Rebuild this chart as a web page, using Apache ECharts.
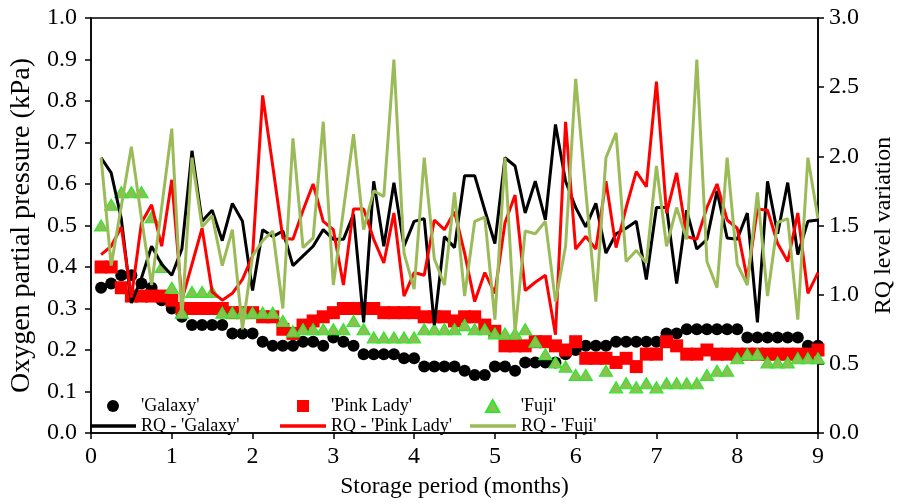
<!DOCTYPE html>
<html>
<head>
<meta charset="utf-8">
<script src="https://cdn.jsdelivr.net/npm/echarts@6/dist/echarts.min.js"></script>
<style>
  html, body { margin: 0; padding: 0; background: #fff; }
  #chart { width: 904px; height: 504px; }
</style>
</head>
<body>
<div id="chart"></div>
<script>
// storage time of each sample (months)
const months = [
  0.125, 0.25, 0.375, 0.5, 0.625, 0.75, 0.875, 1,
  1.125, 1.25, 1.375, 1.5, 1.625, 1.75, 1.875, 2,
  2.125, 2.25, 2.375, 2.5, 2.625, 2.75, 2.875, 3,
  3.125, 3.25, 3.375, 3.5, 3.625, 3.75, 3.875, 4,
  4.125, 4.25, 4.375, 4.5, 4.625, 4.75, 4.875, 5,
  5.125, 5.25, 5.375, 5.5, 5.625, 5.75, 5.875, 6,
  6.125, 6.25, 6.375, 6.5, 6.625, 6.75, 6.875, 7,
  7.125, 7.25, 7.375, 7.5, 7.625, 7.75, 7.875, 8,
  8.125, 8.25, 8.375, 8.5, 8.625, 8.75, 8.875, 9,
];

// oxygen partial pressure (kPa)
const o2Galaxy = [
  0.35, 0.36, 0.38, 0.38, 0.36, 0.35, 0.32, 0.30,
  0.28, 0.26, 0.26, 0.26, 0.26, 0.24, 0.24, 0.24,
  0.22, 0.21, 0.21, 0.21, 0.22, 0.22, 0.21, 0.23,
  0.22, 0.21, 0.19, 0.19, 0.19, 0.19, 0.18, 0.18,
  0.16, 0.16, 0.16, 0.16, 0.15, 0.14, 0.14, 0.16,
  0.16, 0.15, 0.17, 0.17, 0.17, 0.17, 0.19, 0.20,
  0.21, 0.21, 0.21, 0.22, 0.22, 0.22, 0.22, 0.22,
  0.24, 0.24, 0.25, 0.25, 0.25, 0.25, 0.25, 0.25,
  0.23, 0.23, 0.23, 0.23, 0.23, 0.23, 0.21, 0.21,
];
const o2PinkLady = [
  0.40, 0.40, 0.35, 0.33, 0.33, 0.33, 0.33, 0.32,
  0.30, 0.30, 0.30, 0.30, 0.30, 0.29, 0.29, 0.29,
  0.28, 0.28, 0.25, 0.24, 0.26, 0.27, 0.28, 0.29,
  0.30, 0.30, 0.30, 0.30, 0.29, 0.29, 0.29, 0.29,
  0.28, 0.28, 0.28, 0.27, 0.28, 0.28, 0.26, 0.245,
  0.21, 0.21, 0.21, 0.22, 0.22, 0.21, 0.20, 0.22,
  0.18, 0.18, 0.18, 0.17, 0.18, 0.16, 0.19, 0.19,
  0.22, 0.21, 0.19, 0.19, 0.20, 0.19, 0.19, 0.19,
  0.19, 0.19, 0.19, 0.19, 0.19, 0.19, 0.19, 0.20,
];
const o2Fuji = [
  0.50, 0.55, 0.58, 0.58, 0.58, 0.52, 0.40, 0.35,
  0.29, 0.34, 0.34, 0.34, 0.29, 0.29, 0.29, 0.29,
  0.29, 0.29, 0.27, 0.245, 0.25, 0.25, 0.25, 0.25,
  0.25, 0.27, 0.25, 0.23, 0.23, 0.23, 0.23, 0.23,
  0.25, 0.25, 0.25, 0.25, 0.26, 0.25, 0.25, 0.24,
  0.24, 0.24, 0.25, 0.22, 0.19, 0.17, 0.16, 0.14,
  0.14, null, 0.15, 0.11, 0.12, 0.11, 0.12, 0.11,
  0.12, 0.12, 0.12, 0.12, 0.14, 0.15, 0.15, 0.18,
  0.19, 0.19, 0.17, 0.17, 0.17, 0.18, 0.18, 0.18,
];

// respiratory quotient
const rqGalaxy = [
  1.99, 1.88, 1.55, 0.94, 1.12, 1.35, 1.22, 1.14,
  1.33, 2.04, 1.53, 1.61, 1.39, 1.66, 1.53, 1.03,
  1.47, 1.42, 1.46, 1.21, 1.28, 1.35, 1.47, 1.40,
  1.40, 1.58, 0.80, 1.82, 1.35, 1.81, 1.35, 1.53,
  1.55, 0.78, 1.42, 1.34, 1.86, 1.86, 1.61, 1.37,
  1.99, 1.93, 1.59, 1.82, 1.54, 2.23, 1.82, 1.63,
  1.49, 1.66, 1.30, 1.44, 1.48, 1.53, 1.11, 1.63,
  1.63, 1.08, 1.61, 1.33, 1.40, 1.75, 1.41, 1.40,
  1.59, 0.80, 1.82, 1.44, 1.81, 1.29, 1.53, 1.54,
];
const rqPinkLady = [
  1.29, 1.35, 1.49, 0.98, 1.52, 1.65, 1.35, 1.83,
  0.96, 1.22, 1.48, 1.02, 0.96, 1.01, 1.11, 1.28,
  2.44, 1.93, 1.41, 1.40, 1.61, 1.80, 1.53, 1.47,
  1.07, 1.62, 1.62, 1.40, 1.23, 1.59, 0.99, 1.16,
  1.14, 1.54, 1.47, 1.60, 1.30, 0.95, 1.16, 1.01,
  1.52, 1.72, 1.03, 1.09, 1.14, 0.71, 2.25, 1.33,
  1.42, 1.33, 1.82, 1.34, 1.63, 1.89, 1.78, 2.54,
  1.59, 1.88, 1.42, 1.40, 1.63, 1.80, 1.54, 1.48,
  1.11, 1.62, 1.61, 1.37, 1.24, 1.59, 1.01, 1.16,
];
const rqFuji = [
  1.99, 1.21, 1.64, 2.07, 1.55, 1.07, 1.63, 2.20,
  0.83, 1.99, 1.49, 1.57, 1.21, 1.47, 0.75, 1.28,
  1.39, 1.46, 0.90, 2.13, 1.34, 1.41, 2.25, 1.07,
  1.61, 2.16, 1.47, 1.75, 1.71, 2.70, 1.30, 1.04,
  1.99, 1.26, 1.07, 1.74, 0.99, 1.53, 1.56, 0.82,
  1.99, 0.73, 1.46, 1.44, 1.53, 0.95, 1.35, 2.56,
  1.75, 0.95, 1.99, 2.17, 1.24, 1.32, 1.23, 1.93,
  1.35, 1.63, 1.40, 2.70, 1.24, 1.05, 1.99, 1.22,
  1.07, 1.74, 0.99, 1.52, 1.55, 0.82, 1.99, 1.55,
];

const FONT = 'Liberation Serif';

function pairs(values) {
  return months.map((m, i) => [m, values[i]]).filter((p) => p[1] != null);
}

function legendAt(name, left, top, icon, h) {
  return {
    data: [{ name, icon }],
    left,
    top,
    padding: 0,
    itemWidth: 46,
    itemHeight: h,
    symbolKeepAspect: true,
    selectedMode: false,
    textStyle: { fontFamily: FONT, fontSize: 18, color: '#000' },
  };
}

const axisCommon = {
  axisLine: { show: true, lineStyle: { color: '#000', width: 1.5 } },
  axisTick: { show: true, inside: false, length: 6, lineStyle: { color: '#000', width: 1.5 } },
  splitLine: { show: false },
  nameLocation: 'middle',
};
const labelCommon = { fontFamily: FONT, fontSize: 24, color: '#000' };

const chart = echarts.init(document.getElementById('chart'));
chart.setOption({
  animation: false,
  backgroundColor: '#fff',
  grid: {
    left: 87, right: 77, top: 18, bottom: 64,
    show: true, borderColor: '#000', borderWidth: 1.5, backgroundColor: 'transparent',
  },
  legend: [
    legendAt("'Galaxy'", 107, 397, 'circle', 12),
    legendAt("'Pink Lady'", 297, 397, 'path://M0,0L10,0L10,10L0,10Z', 12),
    legendAt("'Fuji'", 485, 397, 'path://M5,0L10,9L0,9Z', 12),
    legendAt("RQ - 'Galaxy'", 90, 417, 'rect', 3.5),
    legendAt("RQ - 'Pink Lady'", 280, 417, 'rect', 3.5),
    legendAt("RQ - 'Fuji'", 470, 417, 'rect', 3.5),
  ],
  xAxis: {
    type: 'value',
    min: 0, max: 9, interval: 1,
    name: 'Storage period (months)',
    nameGap: 42,
    nameTextStyle: { fontFamily: FONT, fontSize: 23.5, color: '#000' },
    ...axisCommon,
    axisLabel: { ...labelCommon, margin: 12 },
  },
  yAxis: [
    {
      type: 'value',
      min: 0, max: 1, interval: 0.1,
      name: 'Oxygen partial pressure (kPa)',
      nameGap: 55,
      nameTextStyle: { fontFamily: FONT, fontSize: 28, color: '#000' },
      ...axisCommon,
      axisLabel: { ...labelCommon, margin: 14, formatter: (v) => v.toFixed(1) },
    },
    {
      type: 'value',
      position: 'right',
      min: 0, max: 3, interval: 0.5,
      name: 'RQ level variation',
      nameGap: 54,
      nameTextStyle: { fontFamily: FONT, fontSize: 24, color: '#000' },
      ...axisCommon,
      axisLabel: { ...labelCommon, margin: 11, formatter: (v) => v.toFixed(1) },
    },
  ],
  series: [
    {
      name: "'Galaxy'",
      type: 'scatter',
      symbol: 'circle',
      symbolSize: 12,
      data: pairs(o2Galaxy),
      itemStyle: { color: '#000', opacity: 1 },
    },
    {
      name: "'Pink Lady'",
      type: 'scatter',
      symbol: 'rect',
      symbolSize: 13,
      data: pairs(o2PinkLady),
      itemStyle: { color: '#ff0000', opacity: 1 },
    },
    {
      name: "'Fuji'",
      type: 'scatter',
      symbol: 'triangle',
      symbolSize: [13, 11],
      data: pairs(o2Fuji),
      itemStyle: { color: '#8cc152', borderColor: '#2ee82e', borderWidth: 1.2, opacity: 1 },
    },
    {
      name: "RQ - 'Galaxy'",
      type: 'line',
      yAxisIndex: 1,
      showSymbol: false,
      data: pairs(rqGalaxy),
      lineStyle: { color: '#000', width: 3 },
      itemStyle: { color: '#000' },
    },
    {
      name: "RQ - 'Pink Lady'",
      type: 'line',
      yAxisIndex: 1,
      showSymbol: false,
      data: pairs(rqPinkLady),
      lineStyle: { color: '#ff0000', width: 3 },
      itemStyle: { color: '#ff0000' },
    },
    {
      name: "RQ - 'Fuji'",
      type: 'line',
      yAxisIndex: 1,
      showSymbol: false,
      data: pairs(rqFuji),
      lineStyle: { color: '#9bbb59', width: 3 },
      itemStyle: { color: '#9bbb59' },
    },
  ],
});
</script>
</body>
</html>
